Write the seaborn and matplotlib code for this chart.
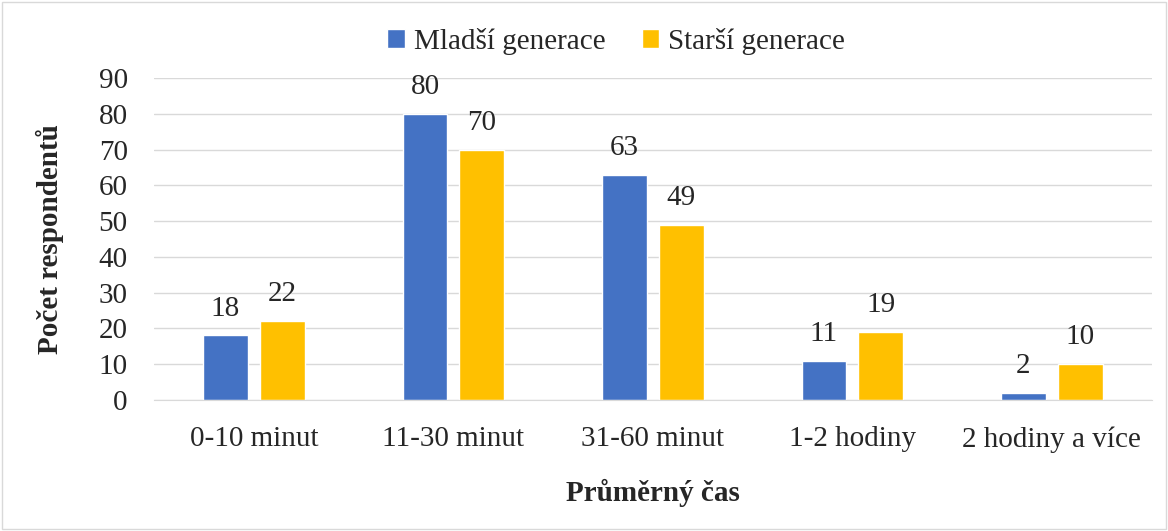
import pandas as pd
import matplotlib.pyplot as plt
import seaborn as sns

# data
categories = ['0-10 minut', '11-30 minut', '31-60 minut', '1-2 hodiny', '2 hodiny a více']
mladsi = [18, 80, 63, 11, 2]
starsi = [22, 70, 49, 19, 10]
series_names = ['Mladší generace', 'Starší generace']
colors = ['#4472C4', '#FFC000']

df = pd.DataFrame({
    'Kategorie': categories * 2,
    'Pocet': mladsi + starsi,
    'Skupina': [series_names[0]] * len(categories) + [series_names[1]] * len(categories),
})

sns.set_style('white')
plt.rcParams['font.family'] = ['Liberation Serif', 'DejaVu Serif']
fs = 21

fig = plt.figure(figsize=(11.68, 5.31), dpi=100)
ax = fig.add_axes([0.132, 0.247, 0.854, 0.606])

sns.barplot(data=df, x='Kategorie', y='Pocet', hue='Skupina',
            palette=colors, width=0.57, gap=0.21, ax=ax, saturation=1)

for cont in ax.containers:
    ax.bar_label(cont, padding=10, fontsize=fs)

ax.set_ylim(0, 90)
ax.set_yticks(range(0, 91, 10))
ax.yaxis.grid(True, color='#D9D9D9', linewidth=1)
ax.set_axisbelow(True)
for s in ['top', 'right', 'left']:
    ax.spines[s].set_visible(False)
ax.spines['bottom'].set_color('#D9D9D9')
ax.tick_params(axis='y', labelsize=fs, length=0, pad=19)
ax.tick_params(axis='x', labelsize=fs, length=0, pad=19)
ax.set_xlabel('Průměrný čas', fontsize=fs, fontweight='bold', labelpad=19)
ax.set_ylabel('Počet respondentů', fontsize=fs, fontweight='bold', labelpad=25)

ax.legend(loc='center', bbox_to_anchor=(0.463, 1.115), ncol=2, frameon=False,
          fontsize=fs, handlelength=0.6, handleheight=0.6, handletextpad=0.3,
          columnspacing=1.25)

fig.patches.append(plt.Rectangle((0.002, 0.003), 0.996, 0.994, transform=fig.transFigure,
                                 fill=False, edgecolor='#D9D9D9', linewidth=1))

plt.savefig('out.png', dpi=100)
